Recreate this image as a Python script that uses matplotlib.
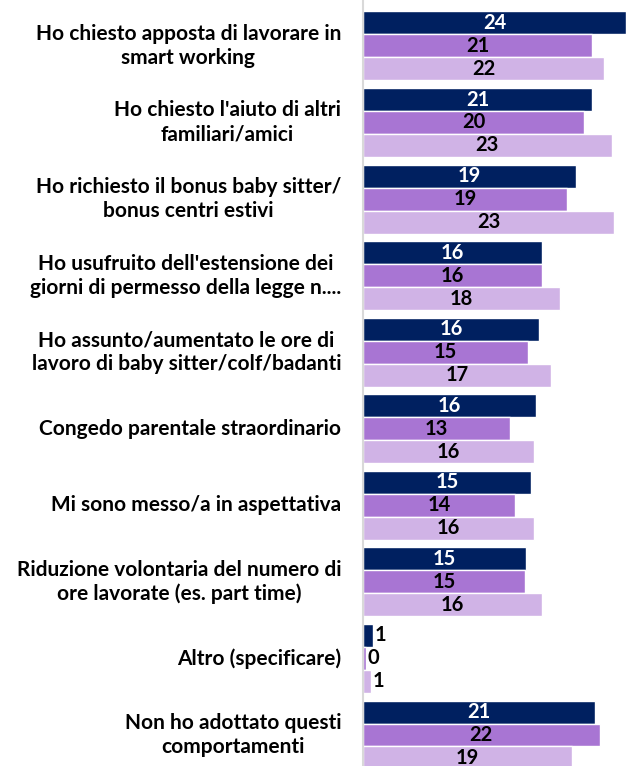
import matplotlib.pyplot as plt
import numpy as np

categorie = [
    "Ho chiesto apposta di lavorare in\nsmart working",
    "Ho chiesto l'aiuto di altri\nfamiliari/amici",
    "Ho richiesto il bonus baby sitter/\nbonus centri estivi",
    "Ho usufruito dell'estensione dei\ngiorni di permesso della legge n....",
    "Ho assunto/aumentato le ore di\nlavoro di baby sitter/colf/badanti",
    "Congedo parentale straordinario",
    "Mi sono messo/a in aspettativa",
    "Riduzione volontaria del numero di\nore lavorate (es. part time)",
    "Altro (specificare)",
    "Non ho adottato questi\ncomportamenti",
]
serie_1 = [24.0, 20.9, 19.4, 16.3, 16.1, 15.8, 15.3, 14.9, 0.9, 21.2]
serie_2 = [20.9, 20.2, 18.6, 16.3, 15.1, 13.4, 13.9, 14.8, 0.3, 21.6]
serie_3 = [22.0, 22.7, 22.9, 18.0, 17.2, 15.6, 15.6, 16.3, 0.7, 19.1]

colori = ['#002060', '#a875d3', '#d0b3e6']
colori_testo = ['white', 'black', 'black']

plt.rcParams['font.family'] = ['Lato', 'DejaVu Sans']

fig = plt.figure(figsize=(6.26, 7.66), dpi=100)
ax = fig.add_axes([363 / 626, 0, 263 / 626, 1])

y = np.arange(len(categorie))
h = 0.3
for i, (vals, col, tcol) in enumerate(zip([serie_1, serie_2, serie_3], colori, colori_testo)):
    pos = y + (i - 1) * h
    ax.barh(pos, vals, height=h, color=col, edgecolor='white', linewidth=1)
    for p, v in zip(pos, vals):
        if v < 3:
            ax.text(v + 0.15, p, f"{v:.0f}", va='center', ha='left',
                    fontsize=14.5, fontweight='bold', color='black')
        else:
            ax.text(v / 2, p, f"{v:.0f}", va='center', ha='center',
                    fontsize=14.5, fontweight='bold', color=tcol)

for yy, lab in zip(y, categorie):
    ax.text(-2.0, yy, lab, ha='right', va='center', multialignment='center',
            fontsize=15, fontweight='bold', color='black', linespacing=1.25,
            clip_on=False)

ax.set_xlim(0, 24.0)
ax.set_ylim(9.405, -0.6)
ax.set_xticks([])
ax.set_yticks([])
for s in ['top', 'right', 'bottom']:
    ax.spines[s].set_visible(False)
ax.spines['left'].set_color('#d9d9d9')
ax.spines['left'].set_linewidth(1.5)

plt.savefig('out.png', dpi=100)
plt.close()
